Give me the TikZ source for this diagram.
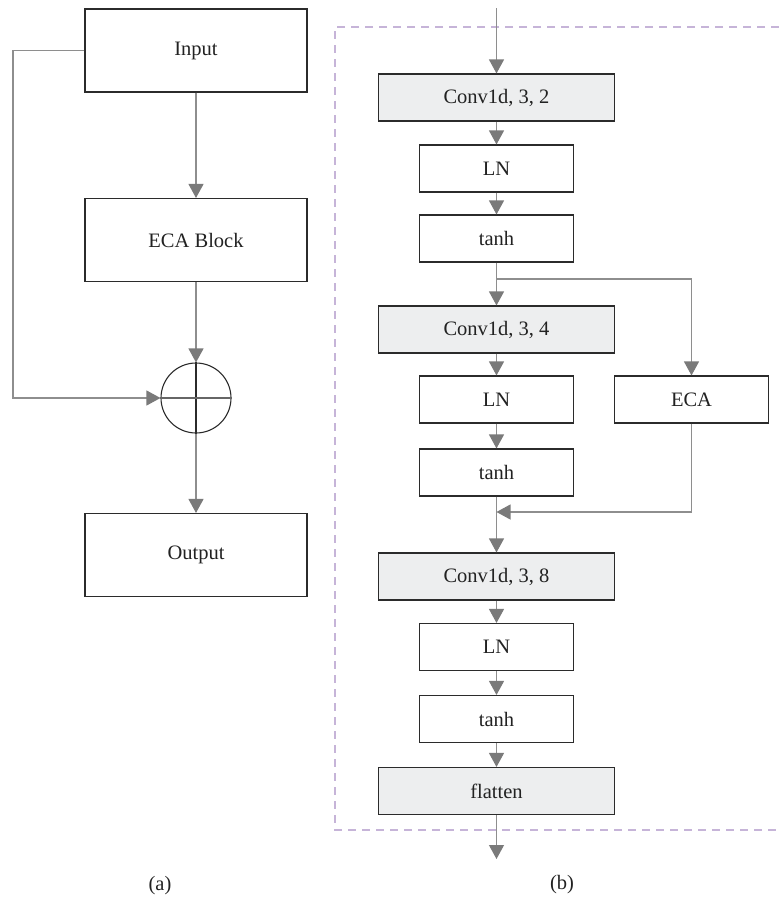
\documentclass[tikz,border=0pt]{standalone}
\usepackage{fontspec}
\setmainfont{Liberation Serif}
\usetikzlibrary{arrows.meta}
\definecolor{linegray}{HTML}{8E8E8E}
\definecolor{tipgray}{HTML}{7A7A7A}
\definecolor{boxborder}{HTML}{2B2B2B}
\definecolor{boxfill}{HTML}{EDEEEF}
\definecolor{dashpurple}{HTML}{C6B4D8}
\definecolor{txt}{HTML}{222222}
\begin{document}
\begin{tikzpicture}[x=1pt,y=-1pt,
  font=\fontsize{20.5}{24}\selectfont,
  blk/.style={draw=boxborder, line width=1.1pt, rectangle, inner sep=0pt, text=txt, fill=white},
  bigblk/.style={blk, minimum width=222pt, minimum height=83pt},
  wideblk/.style={blk, fill=boxfill, minimum width=236pt, minimum height=47pt},
  narblk/.style={blk, minimum width=154pt, minimum height=47pt},
  conn/.style={draw=linegray, line width=1.1pt, -{Triangle[length=14pt,width=15pt,fill=tipgray,color=tipgray]}},
  lbl/.style={text=txt, inner sep=0pt}
]
\useasboundingbox (0,0) rectangle (779,900);

% dashed frame
\draw[dashpurple, dash pattern=on 8pt off 6pt, line width=1.1pt] (779,27) -- (335,27) -- (335,830) -- (779,830);

% ---------- (a) ----------
\node[bigblk] (in) at (196,50.5) {Input};
\node[bigblk] (eca) at (196,240) {ECA Block};
\node[circle, draw=boxborder, line width=1.1pt, minimum size=70pt, inner sep=0pt] (sum) at (196,398) {};
\draw[boxborder, line width=1.1pt] (sum.north) -- (sum.south);
\draw[black!60, line width=1.1pt] (sum.west) -- (sum.east);
\node[bigblk] (out) at (196,555) {Output};
\coordinate (fbk) at (13,50.5);

\draw[conn] (in) -- (eca);
\draw[conn] (eca) -- (sum);
\draw[conn] (sum) -- (out);
\draw[conn] (in.west) -- (fbk) |- (sum.west);

\node[lbl] (la) at (160,886) {(a)};

% ---------- (b) ----------
\coordinate (top) at (496.5,8);
\node[wideblk] (c1) at (496.5,97.5) {Conv1d, 3, 2};
\node[narblk] (ln1) at (496.5,168.5) {LN};
\node[narblk] (t1) at (496.5,238.5) {tanh};
\coordinate (br) at (496.5,279);
\node[wideblk] (c2) at (496.5,329.5) {Conv1d, 3, 4};
\node[narblk] (ln2) at (496.5,399.5) {LN};
\node[narblk] (ecar) at (691.5,399.5) {ECA};
\node[narblk] (t2) at (496.5,472.5) {tanh};
\coordinate (mg) at (496.5,512);
\node[wideblk] (c3) at (496.5,576.5) {Conv1d, 3, 8};
\node[narblk] (ln3) at (496.5,647) {LN};
\node[narblk] (t3) at (496.5,719) {tanh};
\node[wideblk] (fl) at (496.5,791) {flatten};
\coordinate (end) at (496.5,859);

\draw[conn] (top) -- (c1);
\draw[conn] (c1) -- (ln1);
\draw[conn] (ln1) -- (t1);
\draw[conn] (t1) -- (c2);
\draw[conn] (br) -| (ecar);
\draw[conn] (c2) -- (ln2);
\draw[conn] (ln2) -- (t2);
\draw[conn] (t2) -- (c3);
\draw[conn] (ecar) |- (mg);
\draw[conn] (c3) -- (ln3);
\draw[conn] (ln3) -- (t3);
\draw[conn] (t3) -- (fl);
\draw[conn] (fl) -- (end);

\node[lbl] (lb) at (562,885) {(b)};
\end{tikzpicture}
\end{document}
